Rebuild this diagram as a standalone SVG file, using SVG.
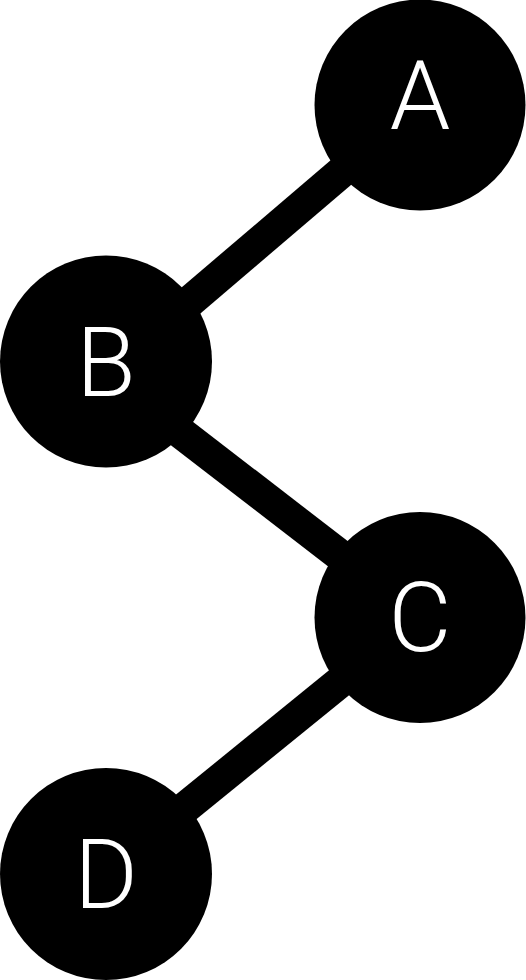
<svg xmlns="http://www.w3.org/2000/svg" width="526" height="980" viewBox="0 0 526 980">
<style>
.edge{stroke:#000;stroke-width:32;stroke-linecap:butt;fill:none}
.node circle{fill:#000}
.node text{fill:#fff;font-family:Roboto,"Liberation Sans",sans-serif;font-size:97px;font-weight:300;text-anchor:middle}
</style>
<rect width="526" height="980" fill="#fff"/>
<g id="connectors">
<line class="edge" x1="420" y1="105" x2="106" y2="373"/>
<line class="edge" x1="106" y1="375" x2="420" y2="617"/>
<line class="edge" x1="420" y1="617" x2="106" y2="872"/>
</g>
<g id="node-A" class="node"><circle cx="420" cy="105" r="105.5"/><text x="420" y="129">A</text></g>
<g id="node-B" class="node"><circle cx="106" cy="361.5" r="106"/><text x="106" y="396">B</text></g>
<g id="node-C" class="node"><circle cx="420" cy="617.5" r="105.5"/><text x="420" y="651">C</text></g>
<g id="node-D" class="node"><circle cx="106" cy="874" r="106"/><text x="106" y="908">D</text></g>
</svg>
